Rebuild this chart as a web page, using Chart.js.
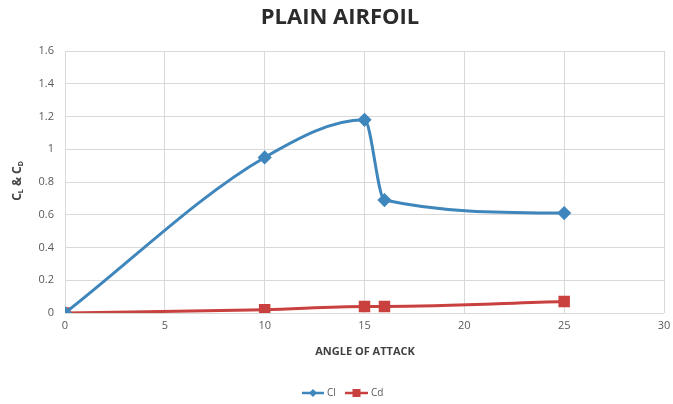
<!DOCTYPE html>
<html><head><meta charset="utf-8">
<script src="https://cdn.jsdelivr.net/npm/chart.js@4/dist/chart.umd.min.js"></script>
<style>html,body{margin:0;padding:0;background:#fff}#w{width:673px;height:404px}</style>
</head><body><div id="w"><canvas id="c" width="673" height="404"></canvas></div>
<script>
const angles = [0, 10, 15, 16, 25];
const clValues = [0, 0.95, 1.18, 0.69, 0.61];
const cdValues = [0, 0.02, 0.04, 0.04, 0.07];
const xTicks = [0, 5, 10, 15, 20, 25, 30];
const yTicks = [0, 0.2, 0.4, 0.6, 0.8, 1, 1.2, 1.4, 1.6];
const titleText = "PLAIN AIRFOIL";
const xTitle = "ANGLE OF ATTACK";
const seriesNames = ["Cl", "Cd"];

const BLUE = '#3f86bd', RED = '#c9413f';
const FONT = "'Open Sans', 'Liberation Sans', sans-serif";

const overlay = {
  id: 'overlay',
  afterDraw(chart) {
    const ctx = chart.ctx;
    ctx.save();
    ctx.fillStyle = '#2b2b2b';
    ctx.textAlign = 'center'; ctx.textBaseline = 'middle';
    ctx.font = "bold 22px " + FONT;
    ctx.fillText(titleText, 340, 18);
    ctx.font = "bold 11px " + FONT;
    ctx.fillStyle = '#404040';
    ctx.fillText(xTitle, 365, 352);
    // y title with subscripts
    ctx.translate(18, 181);
    ctx.rotate(-Math.PI / 2);
    const parts = [["C", 12, 0], ["L", 7, 3], [" & ", 12, 0], ["C", 12, 0], ["D", 7, 3]];
    let total = 0;
    parts.forEach(p => { ctx.font = "bold " + p[1] + "px " + FONT; total += ctx.measureText(p[0]).width; });
    let x = -total / 2;
    ctx.textAlign = 'left';
    parts.forEach(p => { ctx.font = "bold " + p[1] + "px " + FONT; ctx.fillText(p[0], x, p[2]); x += ctx.measureText(p[0]).width; });
    ctx.restore();
    // legend
    ctx.save();
    const ly = 393;
    const items = [{c: BLUE, x0: 302, x1: 324, shape: 'diamond', name: seriesNames[0], tx: 327},
                   {c: RED, x0: 345, x1: 368, shape: 'square', name: seriesNames[1], tx: 371}];
    items.forEach(it => {
      ctx.strokeStyle = it.c; ctx.lineWidth = 2.5;
      ctx.beginPath(); ctx.moveTo(it.x0, ly); ctx.lineTo(it.x1, ly); ctx.stroke();
      ctx.fillStyle = it.c;
      const cx = (it.x0 + it.x1) / 2;
      if (it.shape === 'diamond') {
        ctx.beginPath(); ctx.moveTo(cx, ly - 4); ctx.lineTo(cx + 4, ly); ctx.lineTo(cx, ly + 4); ctx.lineTo(cx - 4, ly); ctx.closePath(); ctx.fill();
      } else {
        ctx.fillRect(cx - 4, ly - 4, 8, 8);
      }
      ctx.fillStyle = '#595959';
      ctx.font = "10px " + FONT;
      ctx.textAlign = 'left'; ctx.textBaseline = 'middle';
      ctx.fillText(it.name, it.tx, ly);
    });
    ctx.restore();
  }
};

new Chart(document.getElementById('c'), {
  type: 'line',
  data: {
    datasets: [
      { label: seriesNames[0], data: angles.map((a, i) => ({x: a, y: clValues[i]})),
        borderColor: BLUE, backgroundColor: BLUE, borderWidth: 3, cubicInterpolationMode: 'monotone',
        pointStyle: 'rectRot', pointRadius: 5, pointHoverRadius: 5 },
      { label: seriesNames[1], data: angles.map((a, i) => ({x: a, y: cdValues[i]})),
        borderColor: RED, backgroundColor: RED, borderWidth: 3, cubicInterpolationMode: 'monotone',
        pointStyle: 'rect', pointRadius: 6, pointHoverRadius: 6 }
    ]
  },
  options: {
    responsive: false, animation: false, devicePixelRatio: 1,
    layout: { padding: { top: 51, right: 7, left: 0, bottom: 0 } },
    plugins: { legend: { display: false }, title: { display: false }, tooltip: { enabled: false } },
    scales: {
      x: {
        type: 'linear', min: 0, max: 30,
        afterFit(s) { s.height = 91; s.paddingRight = 0; s.paddingLeft = 0; },
        afterBuildTicks(s) { s.ticks = xTicks.map(v => ({value: v})); },
        grid: { color: '#d9d9d9', drawTicks: false, lineWidth: 1 },
        border: { display: false },
        ticks: { color: '#595959', font: { size: 11, family: FONT }, padding: 6 }
      },
      y: {
        min: 0, max: 1.6,
        afterFit(s) { s.width = 65; s.paddingTop = 0; s.paddingBottom = 0; },
        afterBuildTicks(s) { s.ticks = yTicks.map(v => ({value: v})); },
        grid: { color: '#d9d9d9', drawTicks: false, lineWidth: 1 },
        border: { display: false },
        ticks: { color: '#595959', font: { size: 11, family: FONT }, padding: 11,
                 callback: v => String(Math.round(v * 10) / 10) }
      }
    }
  },
  plugins: [overlay]
});
</script></body></html>
